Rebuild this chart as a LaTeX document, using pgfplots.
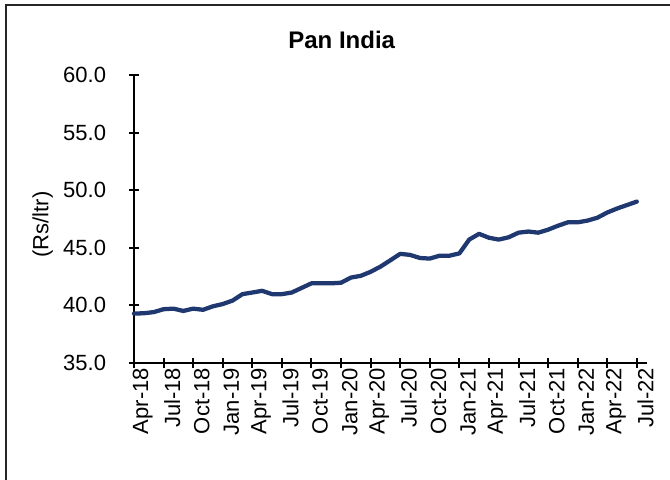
\documentclass[border=0pt]{standalone}
\usepackage{fontspec}
\setmainfont{Liberation Sans}
\usepackage{pgfplots}
\pgfplotsset{compat=1.18}
\definecolor{linenavy}{RGB}{31,56,112}

% monthly price, Apr-18 (0) to Jul-22 (51)
\pgfplotstableread{
m price
0 39.27
1 39.30
2 39.40
3 39.65
4 39.70
5 39.50
6 39.70
7 39.60
8 39.90
9 40.10
10 40.40
11 40.96
12 41.10
13 41.25
14 40.96
15 40.96
16 41.10
17 41.50
18 41.90
19 41.90
20 41.90
21 41.95
22 42.40
23 42.55
24 42.90
25 43.35
26 43.90
27 44.46
28 44.37
29 44.10
30 44.05
31 44.30
32 44.30
33 44.50
34 45.70
35 46.20
36 45.86
37 45.70
38 45.90
39 46.30
40 46.40
41 46.30
42 46.56
43 46.90
44 47.20
45 47.20
46 47.35
47 47.60
48 48.05
49 48.40
50 48.70
51 49.00
}\pandata

\begin{document}
\begin{tikzpicture}
% page = 670 x 479 px at 0.75pt per px
\useasboundingbox (0,0) rectangle (502.5pt,359.25pt);
% frame (only left and top edges fall inside the picture)
\draw[line width=1.8pt, black!85] (4.5pt,-5pt) -- (4.5pt,355.5pt) -- (510pt,355.5pt);

\node[font=\fontsize{18}{21}\selectfont\bfseries] at (256.3pt,329.3pt) {Pan India};

\begin{axis}[
    at={(100.5pt,87.2pt)}, anchor=south west,
    scale only axis,
    width=384.5pt, height=215.8pt,
    xmin=0, xmax=52,
    ymin=35, ymax=60,
    xtick={0,3,...,51},
    xticklabels={Apr-18,Jul-18,Oct-18,Jan-19,Apr-19,Jul-19,Oct-19,Jan-20,Apr-20,Jul-20,Oct-20,Jan-21,Apr-21,Jul-21,Oct-21,Jan-22,Apr-22,Jul-22},
    ytick={35,40,...,60},
    /pgf/number format/fixed,
    /pgf/number format/fixed zerofill,
    /pgf/number format/precision=1,
    /pgf/number format/assume math mode=true,
    tick label style={font=\fontsize{16.5}{19}\selectfont},
    xticklabel style={rotate=90, anchor=east, inner sep=0pt, yshift=-6.5pt},
    yticklabel style={anchor=east, inner sep=0pt, xshift=-17pt},
    axis x line*=bottom, axis y line*=left,
    axis line style={line width=1.5pt, -},
    major tick style={line width=1.5pt, black},
    major tick length=7.5pt,
    tick align=center,
    ylabel={(Rs/ltr)},
    ylabel style={font=\fontsize{16.5}{19}\selectfont, at={(axis description cs:-0.178,0.48)}, anchor=center},
    clip=false,
]
\addplot[linenavy, line width=3.2pt, line join=round, line cap=round] table[x=m, y=price] {\pandata};
\end{axis}
\end{tikzpicture}
\end{document}
